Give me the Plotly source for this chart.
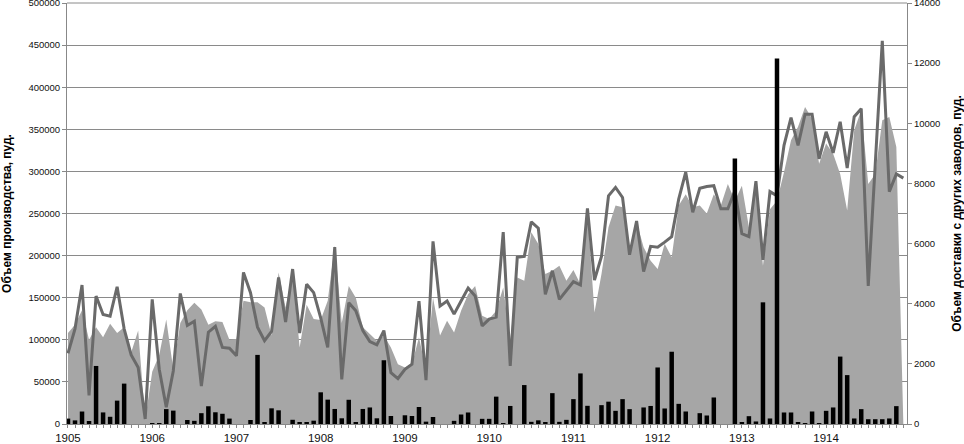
import plotly.graph_objects as go

years = ["1905", "1906", "1907", "1908", "1909", "1910", "1911", "1912", "1913", "1914"]

# Production area (left axis, пуд.), monthly Jan 1905 .. Dec 1914
production_area = [
    108000, 118000, 135000, 100000, 115000, 103000, 119000, 108000, 115000, 85000, 111000, 5000,
    62000, 82000, 124000, 65000, 120000, 135000, 144000, 136000, 118000, 122000, 121000, 100000,
    101000, 146500, 144500, 144500, 138500, 105000, 180000, 138500, 180000, 91000, 141600, 124600,
    123400, 146400, 212000, 120000, 164000, 150000, 115000, 107000, 99000, 105000, 91000, 71000,
    67000, 71000, 103000, 63000, 150000, 105000, 122600, 108700, 134500, 154000, 164000, 128500,
    124600, 134500, 162000, 100000, 174000, 170000, 227700, 213900, 178000, 182000, 188000, 170000,
    183000, 166000, 253500, 132500, 178000, 233700, 259500, 257500, 205000, 240000, 210000, 194000,
    184000, 214000, 198000, 259500, 273000, 257500, 259500, 250000, 273000, 259500, 285000, 265000,
    283000, 233700, 280000, 188000, 255000, 265000, 299000, 337000, 353000, 376500, 362600, 309000,
    333000, 321000, 297000, 253500, 348800, 372600, 285000, 297000, 360700, 364600, 329000, 0,
]

# Production line (left axis)
production_line = [
    84000, 113000, 165000, 34000, 152000, 130000, 128000, 163000, 113000, 82000, 67000, 6000,
    148000, 65000, 20000, 63000, 155000, 117000, 122000, 45000, 109000, 116000, 91000, 90000,
    81000, 180000, 156000, 115000, 99000, 110000, 174000, 121000, 184000, 108000, 166000, 156000,
    126000, 91000, 210000, 53000, 144000, 134500, 111000, 98000, 94000, 111000, 61000, 54000,
    65000, 71000, 146000, 52000, 217000, 140000, 146000, 130500, 146000, 161500, 152000, 116600,
    124600, 127000, 228000, 69000, 198000, 199000, 240000, 232500, 154000, 182000, 148000, 158000,
    169000, 165000, 256000, 171000, 199000, 271000, 281000, 269000, 201000, 241000, 181000, 211000,
    210000, 216000, 222600, 267000, 299000, 251500, 280000, 282000, 283000, 255500, 255500, 277000,
    226000, 222600, 288500, 195000, 276000, 271000, 331000, 364000, 331000, 368000, 368000, 315000,
    347000, 322000, 359000, 304000, 365000, 374500, 164000, 309000, 455000, 276000, 297000, 292000,
]

# Deliveries from other plants (right axis, пуд.)
delivery = [
    180, 120, 415, 100, 1930, 385, 240, 777, 1343, 0, 0, 0,
    20, 20, 495, 445, 0, 133, 105, 360, 590, 390, 340, 180,
    0, 0, 133, 2298, 50, 521, 455, 0, 140, 45, 60, 110,
    1054, 810, 500, 190, 805, 50, 500, 550, 190, 2120, 266, 0,
    290, 266, 566, 78, 233, 0, 0, 105, 316, 383, 0, 172,
    172, 910, 22, 600, 0, 1295, 72, 122, 50, 1026, 72, 138,
    827, 1682, 605, 0, 627, 743, 438, 827, 494, 0, 550, 600,
    1880, 516, 2403, 670, 416, 0, 360, 283, 882, 0, 0, 8830,
    50, 260, 84, 4046, 184, 12155, 383, 383, 50, 27, 416, 27,
    438, 550, 2242, 1626, 184, 494, 160, 160, 160, 184, 594, 0,
]

months = list(range(len(production_line)))
year_ticks = [i * 12 for i in range(len(years))]

fig = go.Figure()
fig.add_trace(go.Scatter(
    x=months, y=production_area, mode="none", fill="tozeroy",
    fillcolor="#a6a6a6", showlegend=False, hoverinfo="skip",
))
fig.add_trace(go.Scatter(
    x=months, y=production_line, mode="lines",
    line=dict(color="#6a6a6a", width=3), showlegend=False,
))
fig.add_trace(go.Bar(
    x=months, y=delivery, yaxis="y2", marker=dict(color="#000000", line=dict(width=0)),
    showlegend=False,
))

axis_font = dict(family="Liberation Sans, Arial, sans-serif", size=9.5, color="#111111")
title_font = dict(family="Liberation Sans, Arial, sans-serif", size=12, color="#000000")

fig.update_layout(
    width=964, height=444,
    margin=dict(l=67, r=57, t=3, b=20, autoexpand=False),
    paper_bgcolor="white", plot_bgcolor="white",
    bargap=0.36,
    font=dict(family="Liberation Sans, Arial, sans-serif"),
    xaxis=dict(
        range=[-0.14, 119.52], automargin=False,
        tickmode="array", tickvals=year_ticks, ticktext=years,
        tickfont=dict(family="Liberation Sans, Arial, sans-serif", size=11.5, color="#111111"),
        ticks="outside", ticklen=3, tickcolor="#888888",
        minor=dict(dtick=1, tick0=0, ticks="outside", ticklen=3, tickcolor="#888888"),
        showline=True, linecolor="#888888", linewidth=1,
        showgrid=False, zeroline=False,
    ),
    yaxis=dict(
        range=[0, 500000], dtick=50000, tick0=0, automargin=False,
        tickfont=axis_font, tickformat="d", ticklabeloverflow="allow",
        showgrid=True, gridcolor="#8a8a8a", gridwidth=1,
        showline=True, linecolor="#888888", linewidth=1,
        ticks="outside", ticklen=4, tickcolor="#888888",
        zeroline=False,
        title=dict(text="<b>Объем производства, пуд.</b>", font=title_font, standoff=16),
    ),
    yaxis2=dict(
        range=[0, 14000], dtick=2000, tick0=0, automargin=False,
        overlaying="y", side="right",
        tickfont=axis_font, tickformat="d", ticklabeloverflow="allow",
        showgrid=False,
        showline=True, linecolor="#888888", linewidth=1,
        ticks="outside", ticklen=4, tickcolor="#888888",
        zeroline=False,
        title=dict(text="<b>Объем доставки с других заводов, пуд.</b>", font=title_font, standoff=14),
    ),
    shapes=[dict(type="line", xref="paper", yref="paper", x0=0, x1=1, y0=1, y1=1,
                 line=dict(color="#8a8a8a", width=1))],
)

fig.write_html(
    "out.html",
    config={"displayModeBar": False},
    post_script="document.body.style.margin='0';document.body.style.overflow='hidden';",
)
